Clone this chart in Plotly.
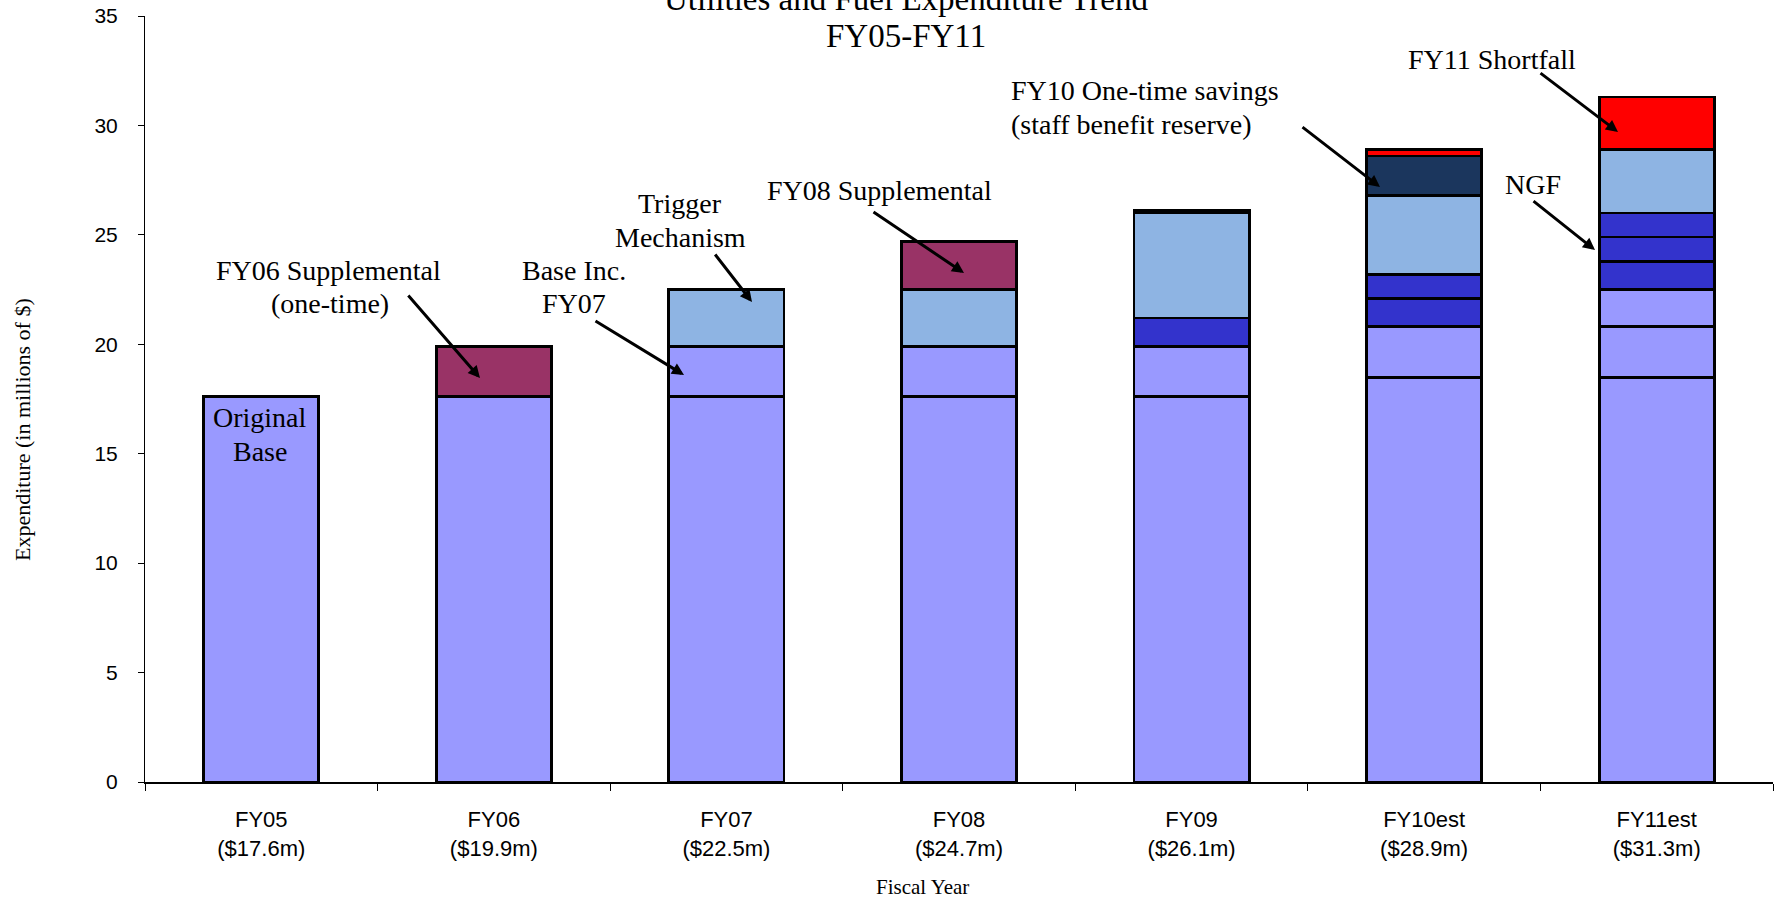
import plotly.graph_objects as go

# ---- data (millions of $) ----
years = ["FY05", "FY06", "FY07", "FY08", "FY09", "FY10est", "FY11est"]
tick_labels = ["FY05<br>($17.6m)", "FY06<br>($19.9m)", "FY07<br>($22.5m)",
               "FY08<br>($24.7m)", "FY09<br>($26.1m)", "FY10est<br>($28.9m)",
               "FY11est<br>($31.3m)"]

original_base = [17.6, 17.6, 17.6, 17.6, 17.6, 18.5, 18.5]
base_inc_fy07 = [None, None, 2.3, 2.3, 2.3, 2.3, 2.3]
base_inc_fy11 = [None, None, None, None, None, None, 1.7]
ngf_1 = [None, None, None, None, 1.3, 1.3, 1.3]
ngf_2 = [None, None, None, None, None, 1.1, 1.1]
ngf_3 = [None, None, None, None, None, None, 1.1]
trigger = [None, None, 2.6, 2.6, 4.8, 3.6, 2.9]
supplemental = [None, 2.3, None, 2.2, None, None, None]
one_time_savings = [None, None, None, None, 0.1, 1.8, None]
shortfall = [None, None, None, None, None, 0.3, 2.4]

LIGHT_PURPLE = "#9999FF"
DARK_BLUE = "#3333CC"
LIGHT_BLUE = "#8EB4E3"
MAROON = "#993366"
NAVY = "#1B365D"
RED = "#FF0000"

series = [
    ("Original Base", original_base, LIGHT_PURPLE),
    ("Base Inc. FY07", base_inc_fy07, LIGHT_PURPLE),
    ("Base Inc. FY11", base_inc_fy11, LIGHT_PURPLE),
    ("NGF 1", ngf_1, DARK_BLUE),
    ("NGF 2", ngf_2, DARK_BLUE),
    ("NGF 3", ngf_3, DARK_BLUE),
    ("Trigger Mechanism", trigger, LIGHT_BLUE),
    ("Supplemental", supplemental, MAROON),
    ("One-time savings", one_time_savings, NAVY),
    ("Shortfall", shortfall, RED),
]

W, H = 1775, 901
M_L, M_R, M_T, M_B = 145, 2, 16, 119
PW, PH = W - M_L - M_R, H - M_T - M_B

SERIF = "Liberation Serif, Times New Roman, serif"
SANS = "Liberation Sans, Arial, sans-serif"


def px(x):
    return (x - M_L) / PW


def py(y):
    return (H - M_B - y) / PH


fig = go.Figure()
for name, vals, color in series:
    fig.add_trace(go.Bar(
        x=years, y=vals, name=name,
        marker=dict(color=color, line=dict(color="black", width=2.8)),
        showlegend=False,
    ))

annotations = []


def text(s, x, y, size=28, xanchor="center", **kw):
    annotations.append(dict(
        text=s, x=px(x), y=py(y), xref="paper", yref="paper",
        xanchor=xanchor, yanchor="middle", showarrow=False,
        font=dict(family=SERIF, size=size, color="black"), **kw))


def arrow(tail, head):
    annotations.append(dict(
        text="", x=px(head[0]), y=py(head[1]), xref="paper", yref="paper",
        ax=tail[0] - head[0], ay=tail[1] - head[1],
        showarrow=True, arrowhead=2, arrowsize=0.8, arrowwidth=3,
        arrowcolor="black", standoff=0, startstandoff=0))


# chart title (two lines)
text("Utilities and Fuel Expenditure Trend", 906, -1, size=33)
text("FY05-FY11", 906, 36, size=33)

# axis titles
text("Expenditure (in millions of $)", 23, 430, size=22, textangle=-90)
text("Fiscal Year", 922, 887, size=21)

# callouts
text("Original", 260, 417)
text("Base", 260, 451)

text("FY06 Supplemental", 328, 270)
text("(one-time)", 330, 303)
arrow((407, 294), (480, 378))

text("Base Inc.", 574, 270)
text("FY07", 574, 303)
arrow((594, 320), (684, 375))

text("Trigger", 680, 203)
text("Mechanism", 680, 237)
arrow((714, 253), (752, 302))

text("FY08 Supplemental", 879, 191)
arrow((872, 211), (964, 273))

text("FY10 One-time savings", 1009, 91, xanchor="left")
text("(staff benefit reserve)", 1009, 124, xanchor="left")
arrow((1301, 126), (1380, 187))

text("FY11 Shortfall", 1492, 59)
arrow((1539, 72), (1618, 132))

text("NGF", 1533, 184)
arrow((1532, 200), (1595, 250))

fig.update_layout(
    barmode="stack",
    bargap=0.505,
    width=W, height=H,
    margin=dict(l=M_L, r=M_R, t=M_T, b=M_B, pad=0),
    paper_bgcolor="white", plot_bgcolor="white",
    annotations=annotations,
    xaxis=dict(
        type="category", tickmode="array", tickvals=years, ticktext=tick_labels,
        tickson="boundaries", ticks="outside", ticklen=7, tickcolor="black",
        tickwidth=1, showline=True, linecolor="black", linewidth=1.5,
        showgrid=False, ticklabelstandoff=17,
        tickfont=dict(family=SANS, size=22, color="black"),
    ),
    yaxis=dict(
        range=[0, 35], dtick=5, ticks="outside", ticklen=6, tickcolor="black",
        tickwidth=1, showline=True, linecolor="black", linewidth=1,
        showgrid=False, zeroline=False, ticklabelstandoff=16,
        tickfont=dict(family=SANS, size=21, color="black"),
    ),
)

fig.write_html("out.html")
